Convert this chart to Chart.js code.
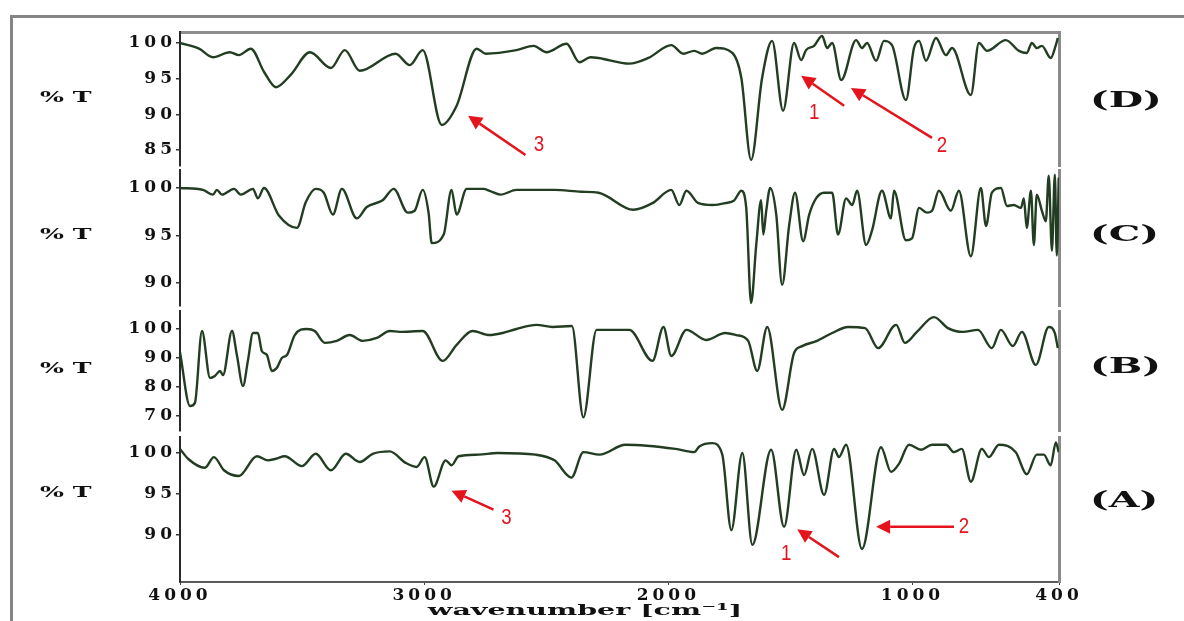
<!DOCTYPE html>
<html lang="en">
<head>
<meta charset="UTF-8">
<title>FTIR spectra (A)-(D)</title>
<script src="https://cdn.jsdelivr.net/npm/chart.js"></script>
<style>
  body { margin: 0; background: #fff; width: 1184px; height: 621px; overflow: hidden; position: relative; }
  .frame { position: absolute; left: 10px; top: 15px; width: 1200px; height: 700px; border: 3px solid #858585; }
  canvas { position: absolute; left: 0; }
  .lbl { position: absolute; white-space: nowrap; font-family: 'DejaVu Serif', serif; font-weight: bold; color: #111; }
  .pt { left: 40px; font-size: 14px; transform: translateY(-50%) scaleX(1.8); transform-origin: left center; }
  .pn { left: 1090px; font-size: 22px; transform: translateY(-50%) scaleX(1.8); transform-origin: left center; }
  .xt { left: 585px; top: 610px; font-size: 15px; transform: translate(-50%, -50%) scaleX(1.9); transform-origin: center center; }
</style>
</head>
<body>
<div class="frame"></div>
<canvas id="cD" width="1184" height="158" style="top:20px"></canvas>
<canvas id="cC" width="1184" height="160" style="top:158px"></canvas>
<canvas id="cB" width="1184" height="144" style="top:299px"></canvas>
<canvas id="cA" width="1184" height="196" style="top:425px"></canvas>

<div class="lbl pt" style="top:97px">% T</div>
<div class="lbl pt" style="top:234px">% T</div>
<div class="lbl pt" style="top:368px">% T</div>
<div class="lbl pt" style="top:492px">% T</div>
<div class="lbl pn" style="top:99px">(D)</div>
<div class="lbl pn" style="top:233px">(C)</div>
<div class="lbl pn" style="top:365px">(B)</div>
<div class="lbl pn" style="top:499px">(A)</div>
<div class="lbl xt">wavenumber [cm⁻¹]</div>

<script>
// wavenumber tick labels (cm-1)
const xTicks = [4000, 3000, 2000, 1000, 400];

// spectrum D
const waveD = [4000, 3922, 3865, 3796, 3759, 3710, 3655, 3607, 3545, 3468, 3382, 3325, 3264, 3117, 3059, 3006,
  2928, 2867, 2785, 2748, 2622, 2552, 2499, 2417, 2364, 2319, 2286, 2160, 2082, 1988, 1939, 1894, 1861, 1804,
  1738, 1701, 1661, 1616, 1575, 1530, 1485, 1456, 1436, 1403, 1370, 1350, 1329, 1292, 1231, 1207, 1186, 1149,
  1117, 1084, 1027, 994, 973, 945, 904, 863, 838, 761, 728, 695, 618, 564, 532, 511, 491, 470, 434, 413, 405];
const tD = [100.0, 99.2, 98.0, 98.7, 98.3, 99.2, 95.9, 93.8, 95.6, 98.7, 96.5, 99.0, 96.1, 98.5, 96.9, 99.0,
  88.5, 91.2, 99.2, 98.5, 99.0, 99.6, 98.7, 99.9, 97.3, 98.0, 97.9, 97.1, 97.9, 99.7, 98.5, 98.9, 98.5, 99.3,
  98.6, 95.1, 83.6, 95.1, 100.3, 90.5, 100.0, 97.6, 99.0, 99.6, 101.0, 99.3, 100.0, 94.8, 100.4, 99.3, 100.0, 97.5,
  100.3, 99.7, 92.0, 99.3, 100.3, 97.5, 100.7, 98.3, 99.3, 92.7, 100.0, 98.9, 100.4, 98.9, 98.6, 100.0, 99.3, 99.6, 97.9, 99.7, 100.7];
const yTicksD = [100, 95, 90, 85];

// spectrum C
const waveC = [4000, 3906, 3865, 3849, 3828, 3779, 3751, 3701, 3681, 3656, 3595, 3521, 3485, 3444, 3411, 3374,
  3337, 3276, 3235, 3170, 3125, 3067, 3039, 3006, 2982, 2969, 2920, 2888, 2867, 2826, 2757, 2732, 2687, 2622,
  2466, 2356, 2286, 2143, 2065, 1988, 1955, 1926, 1877, 1820, 1767, 1730, 1701, 1681, 1661, 1640, 1620, 1611,
  1599, 1583, 1558, 1534, 1505, 1481, 1448, 1423, 1395, 1362, 1329, 1305, 1272, 1247, 1227, 1190, 1166, 1125,
  1088, 1076, 1027, 1002, 973, 941, 920, 892, 843, 810, 761, 720, 699, 675, 638, 613, 585, 556, 544, 532, 515,
  503, 491, 470, 454, 442, 429, 417, 409, 401];
const tC = [100.0, 99.8, 99.3, 99.8, 99.3, 99.9, 99.3, 99.9, 98.9, 100.0, 97.1, 95.8, 98.5, 99.9, 99.5, 97.2,
  99.9, 96.8, 98.0, 98.7, 99.9, 97.4, 97.6, 99.8, 97.4, 94.2, 95.1, 99.8, 97.2, 99.9, 99.9, 99.7, 99.3, 99.8,
  99.8, 99.6, 99.5, 97.7, 98.4, 99.8, 98.2, 99.7, 98.4, 98.2, 98.4, 98.7, 99.7, 97.9, 87.9, 94.0, 98.7, 95.1,
  97.6, 100.0, 97.2, 89.8, 96.1, 99.5, 94.4, 97.2, 98.9, 99.5, 99.5, 95.1, 98.9, 98.2, 99.7, 94.0, 95.5, 99.7,
  96.8, 99.7, 94.5, 94.7, 97.9, 97.4, 97.6, 99.7, 97.6, 99.7, 92.8, 100.0, 96.0, 99.5, 100.0, 98.1, 98.2, 97.9, 98.9, 95.8, 99.7,
  94.0, 99.3, 97.6, 96.5, 101.3, 93.4, 101.4, 92.9, 101.1];
const yTicksC = [100, 95, 90];

// spectrum B
const waveB = [4000, 3959, 3939, 3910, 3877, 3857, 3836, 3824, 3787, 3767, 3742, 3722, 3701, 3681, 3665, 3644,
  3624, 3603, 3583, 3562, 3530, 3481, 3448, 3407, 3358, 3305, 3252, 3194, 3141, 3100, 3006, 2924, 2867, 2802,
  2732, 2679, 2622, 2540, 2474, 2395, 2348, 2294, 2237, 2160, 2065, 2020, 1988, 1926, 1845, 1767, 1722, 1673,
  1636, 1595, 1534, 1485, 1452, 1391, 1329, 1264, 1194, 1141, 1067, 1031, 982, 912, 855, 793, 732, 675, 638,
  589, 552, 495, 442, 417, 405];
const tB = [92.0, 73.4, 74.5, 99.3, 83.1, 83.8, 85.5, 84.1, 99.3, 91.0, 80.3, 89.0, 98.6, 98.6, 92.4, 91.0,
  85.5, 86.6, 90.0, 91.0, 97.9, 100.0, 99.3, 95.2, 95.9, 97.9, 95.9, 96.9, 99.3, 99.0, 99.3, 89.0, 94.5, 99.3,
  97.9, 98.6, 100.0, 101.4, 100.7, 101.0, 69.5, 99.7, 99.7, 99.7, 89.0, 100.7, 90.7, 99.7, 96.2, 98.6, 97.9, 95.9,
  85.5, 100.7, 72.1, 91.7, 94.1, 95.9, 98.6, 100.7, 100.3, 93.4, 101.4, 95.2, 99.0, 104.1, 100.3, 99.0, 99.7, 93.4, 99.7,
  94.1, 99.0, 87.6, 100.7, 98.6, 93.4];
const yTicksB = [100, 90, 80, 70];

// spectrum A
const waveA = [4000, 3967, 3898, 3861, 3820, 3759, 3685, 3640, 3607, 3571, 3501, 3444, 3382, 3321, 3264, 3211,
  3141, 3076, 3031, 2998, 2961, 2912, 2888, 2859, 2777, 2699, 2544, 2466, 2397, 2348, 2282, 2176, 1971, 1894,
  1873, 1820, 1779, 1742, 1697, 1656, 1579, 1526, 1476, 1444, 1411, 1362, 1321, 1301, 1272, 1207, 1129, 1088,
  1055, 1014, 965, 920, 863, 830, 798, 761, 716, 687, 646, 577, 532, 491, 462, 434, 413, 401];
const tA = [100.5, 99.3, 98.2, 99.5, 97.9, 97.2, 99.6, 99.1, 99.3, 99.6, 98.4, 99.9, 97.9, 99.9, 98.9, 99.9,
  100.2, 98.8, 98.3, 99.5, 95.9, 99.1, 98.5, 99.6, 99.8, 100.0, 99.8, 99.1, 97.0, 100.1, 99.8, 101.0, 100.5, 100.1,
  100.8, 101.2, 99.8, 90.6, 100.0, 88.8, 100.4, 91.0, 100.4, 97.3, 100.5, 94.9, 100.5, 99.5, 101.0, 88.3, 100.7, 97.7,
  98.7, 101.0, 100.4, 101.0, 101.0, 100.1, 100.5, 96.5, 100.5, 99.5, 101.0, 100.1, 97.4, 99.8, 99.8, 98.5, 101.3, 100.1];
const yTicksA = [100, 95, 90];

// red arrows: [wavenumber, %T] of tail, head and number
const arrowsD = [
  { num: '3', tail: [2585, 84.3], head: [2820, 89.8], text: [2530, 85.7] },
  { num: '1', tail: [1280, 91.2], head: [1456, 95.4], text: [1403, 90.2] },
  { num: '2', tail: [920, 86.7], head: [1252, 93.7], text: [879, 85.6] }
];
const arrowsA = [
  { num: '3', tail: [2716, 93.1], head: [2888, 95.4], text: [2663, 92.1] },
  { num: '1', tail: [1301, 87.3], head: [1472, 90.7], text: [1517, 87.7] },
  { num: '2', tail: [830, 91.0], head: [1149, 91.0], text: [789, 91.0] }
];

const tickFont = { family: "'DejaVu Serif', serif", weight: 'bold', size: 17 };

// wide lettering like the scanned figure
const wideText = {
  id: 'wideText',
  beforeLayout(chart) { chart.ctx.letterSpacing = '4px'; },
  beforeDraw(chart) { chart.ctx.letterSpacing = '4px'; }
};

function arrowPlugin(list) {
  return {
    id: 'peakArrows',
    afterDatasetsDraw(chart) {
      const { ctx } = chart;
      const xs = chart.scales.x, ys = chart.scales.y;
      ctx.save();
      ctx.letterSpacing = '0px';
      ctx.strokeStyle = '#e3141c';
      ctx.fillStyle = '#e3141c';
      ctx.lineWidth = 2.5;
      list.forEach(a => {
        const x0 = xs.getPixelForValue(a.tail[0]), y0 = ys.getPixelForValue(a.tail[1]);
        const x1 = xs.getPixelForValue(a.head[0]), y1 = ys.getPixelForValue(a.head[1]);
        const ang = Math.atan2(y1 - y0, x1 - x0);
        const hl = 14, hw = 7;
        ctx.beginPath();
        ctx.moveTo(x0, y0);
        ctx.lineTo(x1 - Math.cos(ang) * hl, y1 - Math.sin(ang) * hl);
        ctx.stroke();
        ctx.beginPath();
        ctx.moveTo(x1, y1);
        ctx.lineTo(x1 - Math.cos(ang) * hl - Math.sin(ang) * hw, y1 - Math.sin(ang) * hl + Math.cos(ang) * hw);
        ctx.lineTo(x1 - Math.cos(ang) * hl + Math.sin(ang) * hw, y1 - Math.sin(ang) * hl - Math.cos(ang) * hw);
        ctx.closePath();
        ctx.fill();
        const tx = xs.getPixelForValue(a.text[0]), ty = ys.getPixelForValue(a.text[1]);
        ctx.save();
        ctx.translate(tx, ty);
        ctx.scale(0.85, 1);
        ctx.font = "22px 'Liberation Sans', Arial, sans-serif";
        ctx.textAlign = 'center';
        ctx.textBaseline = 'middle';
        ctx.fillText(a.num, 0, 0);
        ctx.restore();
      });
      ctx.restore();
    }
  };
}

function makePanel(id, waves, values, yTicks, yMin, yMax, opts) {
  const points = waves.map((w, i) => ({ x: w, y: values[i] }));
  const scales = {
    x: {
      type: 'linear', position: 'bottom', reverse: true, min: 400, max: 4000,
      afterBuildTicks: s => { s.ticks = xTicks.map(v => ({ value: v })); },
      afterFit: s => { s.height = opts.xAxis ? 39 : 12; },
      ticks: { display: !!opts.xAxis, font: tickFont, color: '#111', padding: 0, maxRotation: 0, autoSkip: false,
        callback: v => String(v) },
      grid: { display: !!opts.xAxis, drawOnChartArea: false, tickLength: 3, color: '#444' },
      border: { display: !!opts.xAxis, color: '#5a5a5a', width: 2 }
    },
    x2: {
      type: 'linear', position: 'top', reverse: true, min: 400, max: 4000,
      afterFit: s => { s.height = 12; },
      ticks: { display: false },
      grid: { display: false },
      border: { display: !!opts.topLine, color: '#8d8d8d', width: 3 }
    },
    y: {
      type: 'linear', position: 'left', min: yMin, max: yMax,
      afterBuildTicks: s => { s.ticks = yTicks.map(v => ({ value: v })); },
      afterFit: s => { s.width = 180; },
      ticks: { font: tickFont, color: '#111', padding: 0, callback: v => String(v) },
      grid: { drawOnChartArea: false, tickLength: 4, color: '#333', lineWidth: 1.5 },
      border: { color: '#2a2a2a', width: 2 }
    },
    yR: {
      type: 'linear', position: 'right', min: yMin, max: yMax,
      afterFit: s => { s.width = 40; },
      ticks: { display: false },
      grid: { display: false },
      border: { display: true, color: '#8a8a8a', width: 3 }
    }
  };
  const plugins = [wideText];
  if (opts.arrows) plugins.push(arrowPlugin(opts.arrows));
  return new Chart(document.getElementById(id), {
    type: 'line',
    data: {
      datasets: [{
        data: points,
        borderColor: '#223d22',
        borderWidth: 2.4,
        pointRadius: 0,
        cubicInterpolationMode: 'monotone',
        fill: false
      }]
    },
    options: {
      responsive: false,
      animation: false,
      events: [],
      layout: { padding: { left: 0, right: 85, top: 0, bottom: 0 } },
      plugins: { legend: { display: false }, tooltip: { enabled: false } },
      scales: scales
    },
    plugins: plugins
  });
}

makePanel('cD', waveD, tD, yTicksD, 82.75, 101.54, { topLine: true, arrows: arrowsD });
makePanel('cC', waveC, tC, yTicksC, 87.58, 101.89, {});
makePanel('cB', waveB, tB, yTicksB, 64.8, 106.2, {});
makePanel('cA', waveA, tA, yTicksA, 84.27, 101.95, { xAxis: true, arrows: arrowsA });
</script>
</body>
</html>
